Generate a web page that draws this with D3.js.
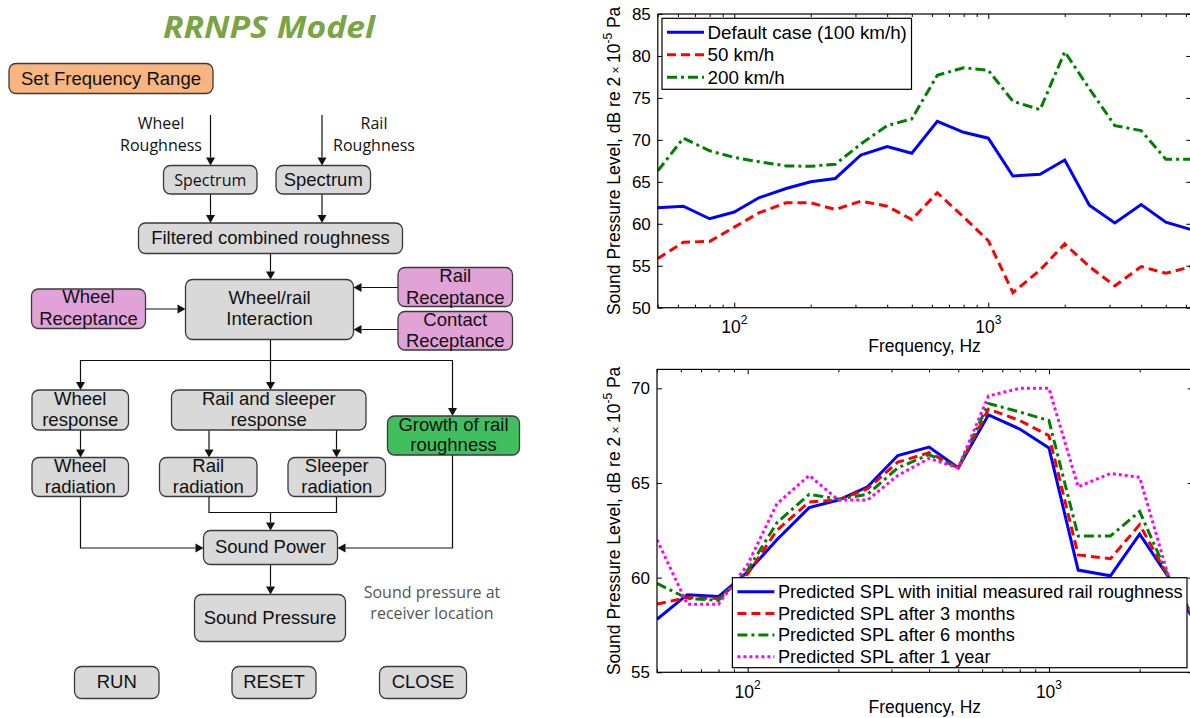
<!DOCTYPE html>
<html lang="en">
<head>
<meta charset="utf-8">
<title>RRNPS model and predicted SPL</title>
<script src="https://d3js.org/d3.v7.min.js"></script>
<style>
  body { margin: 0; background: #fff; }
  svg { display: block; font-family: "Liberation Sans", Arial, sans-serif; }
</style>
</head>
<body>
<script>

// ---------- top chart: train speed ----------
var freqSpeed = [50, 63, 80, 100, 125, 160, 200, 250, 315, 400, 500, 630, 800, 1000, 1250, 1600, 2000, 2500, 3150, 4000, 5000, 6300];
var splDefault = [61.9, 62.1, 60.6, 61.4, 63.1, 64.2, 65.0, 65.4, 68.2, 69.2, 68.4, 72.2, 70.9, 70.2, 65.7, 65.9, 67.6, 62.2, 60.1, 62.3, 60.2, 59.3];
var spl50 = [55.85, 57.8, 57.9, 59.6, 61.3, 62.5, 62.5, 61.7, 62.7, 62.1, 60.5, 63.7, 60.8, 58.0, 51.8, 54.5, 57.6, 54.9, 52.6, 54.9, 54.1, 54.9];
var spl200 = [66.3, 70.2, 68.7, 67.9, 67.4, 66.9, 66.85, 67.1, 69.5, 71.7, 72.5, 77.7, 78.6, 78.3, 74.6, 73.6, 80.5, 76.1, 71.7, 71.1, 67.7, 67.7];
var speedNames = ["Default case (100 km/h)", "50 km/h", "200 km/h"];
var speedTicks = [50, 55, 60, 65, 70, 75, 80, 85];

// ---------- bottom chart: rail roughness growth ----------
var freqGrowth = [50, 63, 80, 100, 125, 160, 200, 250, 315, 400, 500, 630, 800, 1000, 1250, 1600, 2000, 2500, 3150];
var splInitial = [57.8, 59.1, 59.0, 60.3, 62.0, 63.7, 64.1, 64.8, 66.45, 66.9, 65.8, 68.6, 67.85, 66.85, 60.4, 60.1, 62.3, 60.0, 57.3];
var spl3m = [58.6, 58.95, 58.9, 60.2, 62.5, 64.0, 64.1, 64.7, 66.1, 66.6, 65.8, 68.9, 68.3, 67.5, 61.2, 61.0, 62.8, 60.0, 57.4];
var spl6m = [59.7, 58.9, 58.8, 60.4, 62.9, 64.4, 64.15, 64.4, 65.8, 66.5, 65.8, 69.2, 68.75, 68.3, 62.2, 62.2, 63.5, 60.0, 57.5];
var spl1y = [62.0, 58.6, 58.6, 60.7, 63.9, 65.4, 64.1, 64.1, 65.4, 66.3, 65.8, 69.6, 70.0, 70.0, 64.8, 65.5, 65.3, 60.0, 57.6];
var growthNames = ["Predicted SPL with initial measured rail roughness", "Predicted SPL after 3 months",
                   "Predicted SPL after 6 months", "Predicted SPL after 1 year"];
var growthTicks = [55, 60, 65, 70];

var xMajor = [100, 1000];
var xMajorExp = ["2", "3"];

// line styles (MATLAB-like)
var styles = [
  { color: "#0000ff", dash: null },
  { color: "#ff0000", dash: "9,5" },
  { color: "#007f00", dash: "10,4,3,4" },
  { color: "#ff00ff", dash: "3,3" }
];

var w = 1190, h = 718;
var svg = d3.select("body").append("svg").attr("width", w).attr("height", h);
svg.append("rect").attr("width", w).attr("height", h).attr("fill", "#fff");

// minor ticks 2..9 per decade inside domain
function minorTicks(dom) {
  var out = [];
  [10, 100, 1000, 10000].forEach(function(dec) {
    for (var k = 2; k <= 9; k++) {
      var v = k * dec;
      if (v >= dom[0] && v <= dom[1] && xMajor.indexOf(v) < 0) out.push(v);
    }
  });
  return out;
}

function drawChart(opt) {
  var x = d3.scaleLog().domain(opt.xDomain).range([opt.left, opt.right]);
  var y = d3.scaleLinear().domain(opt.yDomain).range([opt.bottom, opt.top]);
  var g = svg.append("g");

  g.append("clipPath").attr("id", opt.id + "-clip").append("rect")
    .attr("x", opt.left).attr("y", opt.top)
    .attr("width", opt.right - opt.left).attr("height", opt.bottom - opt.top);

  // data lines
  var line = d3.line().x(function(d) { return x(d[0]); }).y(function(d) { return y(d[1]); });
  var lines = g.append("g").attr("clip-path", "url(#" + opt.id + "-clip)");
  opt.series.forEach(function(vals, i) {
    lines.append("path")
      .datum(opt.freq.map(function(f, j) { return [f, vals[j]]; }))
      .attr("d", line)
      .attr("fill", "none")
      .attr("stroke", styles[i].color)
      .attr("stroke-width", 3)
      .attr("stroke-dasharray", styles[i].dash);
  });

  // axes (ticks inward, MATLAB box)
  var noDomain = function(sel) { sel.select(".domain").remove(); };
  g.append("g").attr("transform", "translate(" + opt.left + ",0)")
    .call(d3.axisLeft(y).tickValues(opt.yTicks).tickSize(-5).tickPadding(7))
    .call(noDomain)
    .call(function(s) { s.selectAll("text").attr("font-size", 17).attr("fill", "#000").attr("font-family", "Liberation Sans, Arial"); });
  g.append("g").attr("transform", "translate(" + opt.right + ",0)")
    .call(d3.axisRight(y).tickValues(opt.yTicks).tickSize(-5).tickFormat(""))
    .call(noDomain);
  g.append("g").attr("transform", "translate(0," + opt.bottom + ")")
    .call(d3.axisBottom(x).tickValues(xMajor).tickSize(-5).tickFormat(""))
    .call(noDomain);
  g.append("g").attr("transform", "translate(0," + opt.bottom + ")")
    .call(d3.axisBottom(x).tickValues(minorTicks(opt.xDomain)).tickSize(-3).tickFormat(""))
    .call(noDomain);
  g.append("g").attr("transform", "translate(0," + opt.top + ")")
    .call(d3.axisTop(x).tickValues(xMajor).tickSize(-5).tickFormat(""))
    .call(noDomain);
  g.append("g").attr("transform", "translate(0," + opt.top + ")")
    .call(d3.axisTop(x).tickValues(minorTicks(opt.xDomain)).tickSize(-3).tickFormat(""))
    .call(noDomain);
  g.selectAll(".tick line").attr("stroke", "#000");

  g.append("rect")
    .attr("x", opt.left).attr("y", opt.top)
    .attr("width", opt.right - opt.left).attr("height", opt.bottom - opt.top)
    .attr("fill", "none").attr("stroke", "#000").attr("stroke-width", 1.2);

  // x tick labels 10^n
  xMajor.forEach(function(v, i) {
    var t = g.append("text").attr("x", x(v)).attr("y", opt.bottom + 25.5)
      .attr("text-anchor", "middle").attr("font-size", 17.5).attr("fill", "#000");
    t.append("tspan").text("10");
    t.append("tspan").attr("dy", -9).attr("font-size", 12).text(xMajorExp[i]);
  });

  // axis titles
  g.append("text").attr("x", (opt.left + opt.right) / 2).attr("y", opt.bottom + opt.xTitleGap)
    .attr("text-anchor", "middle").attr("font-size", 17.5).attr("fill", "#000")
    .text("Frequency, Hz");

  var yl = g.append("text")
    .attr("transform", "translate(620," + ((opt.top + opt.bottom) / 2) + ") rotate(-90)")
    .attr("text-anchor", "middle").attr("font-size", 17.5).attr("fill", "#000");
  yl.append("tspan").text("Sound Pressure Level, dB re 2");
  yl.append("tspan").attr("font-size", 12).text(" \u00d7 ");
  yl.append("tspan").text("10");
  yl.append("tspan").attr("dy", -8).attr("font-size", 12).text("-5");
  yl.append("tspan").attr("dy", 8).text(" Pa");

  // legend
  var L = opt.legend;
  g.append("rect").attr("x", L.x).attr("y", L.y).attr("width", L.w).attr("height", L.h)
    .attr("fill", "#fff").attr("stroke", "#000").attr("stroke-width", 1.2);
  opt.names.forEach(function(name, i) {
    var cy = L.y + L.pad + i * L.step;
    g.append("line").attr("x1", L.x + 5).attr("x2", L.x + 42).attr("y1", cy).attr("y2", cy)
      .attr("stroke", styles[i].color).attr("stroke-width", 3)
      .attr("stroke-dasharray", styles[i].dash);
    g.append("text").attr("x", L.x + 45.5).attr("y", cy).attr("dy", "0.35em")
      .attr("font-size", L.size).attr("fill", "#000").text(name);
  });
}

drawChart({
  id: "speed", freq: freqSpeed, series: [splDefault, spl50, spl200], names: speedNames,
  xDomain: [50, 6300], yDomain: [50, 85], yTicks: speedTicks,
  left: 657.8, right: 1191.3, top: 14, bottom: 307.7, xTitleGap: 44.5,
  legend: { x: 662, y: 18.3, w: 249.5, h: 71, pad: 14, step: 22.5, size: 18.8 }
});

drawChart({
  id: "growth", freq: freqGrowth, series: [splInitial, spl3m, spl6m, spl1y], names: growthNames,
  xDomain: [50, 3000], yDomain: [55, 71], yTicks: growthTicks,
  left: 657, right: 1192.7, top: 369.4, bottom: 672.3, xTitleGap: 40.5,
  legend: { x: 732.4, y: 577.7, w: 454.6, h: 90, pad: 14, step: 21.7, size: 18.2 }
});

// ---------- left: RRNPS flow diagram ----------
var gray = "#d9d9d9", pink = "#e1a2d8", green = "#41bf5e", orange = "#f8b57f";
var flowNodes = [
  { lines: ["Set Frequency Range"], box: [9, 63.5, 204, 30], fill: orange, ty: [78.5] },
  { lines: ["Spectrum"], box: [163.5, 165.5, 93.5, 28.5], fill: gray, ty: [180], font: "Open Sans", size: 16 },
  { lines: ["Spectrum"], box: [276, 165.5, 94.5, 28.5], fill: gray, ty: [180] },
  { lines: ["Filtered combined roughness"], box: [138.5, 223, 264, 30.5], fill: gray, ty: [238] },
  { lines: ["Wheel/rail", "Interaction"], box: [185.5, 279.5, 168, 60], fill: gray, ty: [297.5, 319] },
  { lines: ["Wheel", "Receptance"], box: [31.5, 289, 114, 39.5], fill: pink, ty: [296.5, 318.5] },
  { lines: ["Rail", "Receptance"], box: [398, 267.5, 114.5, 39], fill: pink, ty: [275.5, 297.5] },
  { lines: ["Contact", "Receptance"], box: [398, 311.5, 114.5, 38.5], fill: pink, ty: [319.5, 341] },
  { lines: ["Wheel", "response"], box: [32, 390, 96.5, 40], fill: gray, ty: [398.5, 420] },
  { lines: ["Rail and sleeper", "response"], box: [171.5, 390, 194.5, 40], fill: gray, ty: [398.5, 420] },
  { lines: ["Growth of rail", "roughness"], box: [387.5, 416, 132, 39], fill: green, ty: [424.5, 444.5] },
  { lines: ["Wheel", "radiation"], box: [32, 457.5, 96.5, 39], fill: gray, ty: [465.5, 487] },
  { lines: ["Rail", "radiation"], box: [159.5, 457.5, 97.5, 39], fill: gray, ty: [465.5, 487] },
  { lines: ["Sleeper", "radiation"], box: [288, 457.5, 97.5, 39], fill: gray, ty: [465.5, 487] },
  { lines: ["Sound Power"], box: [203.5, 530.5, 134, 34], fill: gray, ty: [547] },
  { lines: ["Sound Pressure"], box: [194.5, 594.5, 151, 47], fill: gray, ty: [618] },
  { lines: ["RUN"], box: [74.5, 666.5, 84.5, 32], fill: gray, ty: [682] },
  { lines: ["RESET"], box: [232, 666.5, 84, 32], fill: gray, ty: [682] },
  { lines: ["CLOSE"], box: [379.5, 666.5, 87, 32], fill: gray, ty: [682] }
];

var flowLinks = [
  { p: [[210.5, 115], [210.5, 165.5]], head: true },
  { p: [[322, 115], [322, 165.5]], head: true },
  { p: [[210.5, 194], [210.5, 223]], head: true },
  { p: [[322, 194], [322, 223]], head: true },
  { p: [[270.5, 253.5], [270.5, 279.5]], head: true },
  { p: [[145.5, 309], [185.5, 309]], head: true },
  { p: [[398, 287.5], [353.5, 287.5]], head: true },
  { p: [[398, 329.5], [353.5, 329.5]], head: true },
  { p: [[270.5, 339.5], [270.5, 390]], head: true },
  { p: [[270.5, 360.5], [80.5, 360.5], [80.5, 390]], head: true },
  { p: [[270.5, 360.5], [452.5, 360.5], [452.5, 416]], head: true },
  { p: [[80.5, 430], [80.5, 457.5]], head: true },
  { p: [[209, 430], [209, 457.5]], head: true },
  { p: [[336.5, 430], [336.5, 457.5]], head: true },
  { p: [[209, 496.5], [209, 512.5], [336.5, 512.5], [336.5, 496.5]], head: false },
  { p: [[270.5, 512.5], [270.5, 530.5]], head: true },
  { p: [[80.5, 496.5], [80.5, 548], [203.5, 548]], head: true },
  { p: [[452.5, 455], [452.5, 548], [337.5, 548]], head: true },
  { p: [[270.5, 564.5], [270.5, 594.5]], head: true }
];

var flowNotes = [
  { lines: ["Wheel", "Roughness"], x: 161, ty: [123.5, 145], color: "#111" },
  { lines: ["Rail", "Roughness"], x: 374, ty: [123.5, 145], color: "#111" },
  { lines: ["Sound pressure at", "receiver location"], x: 432, ty: [592.5, 613.5], color: "#555" }
];

var fg = svg.append("g");

fg.append("text").attr("x", 269).attr("y", 37.5).attr("text-anchor", "middle")
  .attr("font-family", "Open Sans, sans-serif").attr("font-weight", "bold").attr("font-style", "italic")
  .attr("font-size", 31).attr("fill", "#7aa542")
  .attr("textLength", 212).attr("lengthAdjust", "spacingAndGlyphs")
  .text("RRNPS Model");

// connectors
var lineGen = d3.line();
flowLinks.forEach(function(l) {
  var pts = l.p.slice();
  var n = pts.length;
  var a = pts[n - 2], b = pts[n - 1];
  var dx = b[0] - a[0], dy = b[1] - a[1];
  var len = Math.sqrt(dx * dx + dy * dy), ux = dx / len, uy = dy / len;
  var hl = 8, hw = 4.5;
  if (l.head) pts[n - 1] = [b[0] - ux * hl, b[1] - uy * hl];
  fg.append("path").attr("d", lineGen(pts)).attr("fill", "none")
    .attr("stroke", "#111").attr("stroke-width", 1.2);
  if (l.head) {
    var bx = b[0] - ux * hl, by = b[1] - uy * hl;
    fg.append("path")
      .attr("d", lineGen([[b[0], b[1]], [bx - uy * hw, by + ux * hw], [bx + uy * hw, by - ux * hw]]) + "Z")
      .attr("fill", "#111");
  }
});

// boxes
flowNodes.forEach(function(d) {
  fg.append("rect").attr("x", d.box[0]).attr("y", d.box[1])
    .attr("width", d.box[2]).attr("height", d.box[3]).attr("rx", 7)
    .attr("fill", d.fill).attr("stroke", "#3a3a3a").attr("stroke-width", 1.3);
  d.lines.forEach(function(s, i) {
    fg.append("text").attr("x", d.box[0] + d.box[2] / 2).attr("y", d.ty[i]).attr("dy", "0.35em")
      .attr("text-anchor", "middle")
      .attr("font-family", d.font ? d.font + ", sans-serif" : "Liberation Sans, Arial, sans-serif")
      .attr("font-size", d.size || 18.5).attr("fill", "#111").text(s);
  });
});

flowNotes.forEach(function(d) {
  d.lines.forEach(function(s, i) {
    fg.append("text").attr("x", d.x).attr("y", d.ty[i]).attr("dy", "0.35em")
      .attr("text-anchor", "middle").attr("font-family", "Open Sans, sans-serif")
      .attr("font-size", 16).attr("fill", d.color).text(s);
  });
});

</script>
</body>
</html>
